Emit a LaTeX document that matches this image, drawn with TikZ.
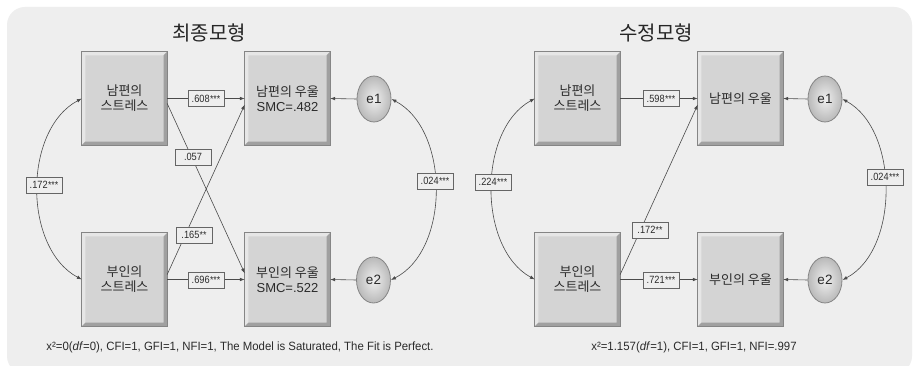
\documentclass[tikz,border=0pt]{standalone}
\usepackage{fontspec}
\setmainfont{Liberation Sans}
\newfontfamily\krfont{Noto Sans CJK KR}
\newfontfamily\narrowfont[FakeStretch=0.88]{Liberation Sans}
\newfontfamily\fitfont[FakeStretch=0.95]{Liberation Sans}
\usetikzlibrary{arrows.meta,shapes.geometric}

\definecolor{panelgray}{HTML}{EEEEEE}
\definecolor{faceg}{HTML}{D4D4D4}
\definecolor{bevlight}{HTML}{E6E6E6}
\definecolor{bevdark}{HTML}{A0A0A0}
\definecolor{edgeg}{HTML}{858585}
\definecolor{inkg}{HTML}{2B2B2B}
\definecolor{lineg}{HTML}{4A4A4A}

\tikzset{
  x=1pt, y=-1pt,
  varbox/.style={rectangle, minimum width=85pt, minimum height=93pt,
    fill=faceg, inner sep=0pt, align=center, text=inkg,
    font=\krfont\fontsize{13}{15}\selectfont},
  errnode/.style={ellipse, minimum width=34pt, minimum height=46pt,
    inner sep=0pt, draw=edgeg, line width=0.8pt,
    inner color=gray!12, outer color=gray!55, text=inkg,
    font=\fontsize{13.5}{13.5}\selectfont},
  coef/.style={rectangle, minimum width=36pt, minimum height=16pt,
    inner sep=0pt, draw=lineg!85, line width=0.5pt, fill=panelgray,
    text=inkg, font=\narrowfont\fontsize{10.5}{10.5}\selectfont},
  tip/.tip={Latex[length=5pt,width=3.6pt]},
  pathline/.style={draw=lineg, line width=0.6pt, -tip},
  covline/.style={draw=lineg, line width=0.6pt, tip-tip},
  title/.style={text=black!85, font=\krfont\fontsize{20}{20}\selectfont},
  fit/.style={text=inkg, font=\fitfont\fontsize{12}{12}\selectfont}
}

% raised bevel frame around a variable box
\newcommand\bevelframe[1]{%
  \fill[bevlight] (#1.north west) -- (#1.north east)
    -- ([shift={(-3.5pt,-3.5pt)}]#1.north east)
    -- ([shift={(3.5pt,-3.5pt)}]#1.north west)
    -- ([shift={(3.5pt,3.5pt)}]#1.south west)
    -- (#1.south west) -- cycle;
  \fill[bevdark] (#1.south east) -- (#1.north east)
    -- ([shift={(-3.5pt,-3.5pt)}]#1.north east)
    -- ([shift={(-3.5pt,3.5pt)}]#1.south east)
    -- ([shift={(3.5pt,3.5pt)}]#1.south west)
    -- (#1.south west) -- cycle;
  \draw[edgeg, line width=0.9pt] (#1.north west) rectangle (#1.south east);
}
\newcommand\stars[1]{{\fontsize{10}{10}\selectfont\kern0.3pt#1}}

\begin{document}
\begin{tikzpicture}
\useasboundingbox (0,0) rectangle (914,366);
\fill[white] (0,0) rectangle (914,366);
\begin{scope}
  \clip (0,0) rectangle (914,366);
  \fill[panelgray, rounded corners=18pt] (7,7) rectangle (912,374);
\end{scope}

% ---------------- final model ----------------
\node[title] (tL) at (209,33) {최종모형};

\node[varbox] (hsL) at (124.5,98.5) {남편의\\스트레스};
\node[varbox] (hdL) at (287.5,98.5) {남편의 우울\\{\rmfamily SMC=.482}};
\node[varbox] (wsL) at (124.5,279.5) {부인의\\스트레스};
\node[varbox] (wdL) at (287.5,279.5) {부인의 우울\\{\rmfamily SMC=.522}};
\foreach \b in {hsL,hdL,wsL,wdL} {\bevelframe{\b}}
\node[errnode] (e1L) at (374,99) {e1};
\node[errnode] (e2L) at (373.5,280) {e2};

\draw[pathline] (hsL.east) -- (hdL.west);
\draw[pathline] ([yshift=-5pt]hsL.east) -- ([yshift=6pt]wdL.west);
\draw[pathline] ([yshift=5pt]wsL.east) -- ([yshift=-6pt]hdL.west);
\draw[pathline] (wsL.east) -- (wdL.west);
\draw[pathline] (e1L.west) -- (hdL.east);
\draw[pathline] (e2L.west) -- (wdL.east);
\draw[covline] (hsL.west) .. controls (23,130) and (23,248) .. (wsL.west);
\draw[covline] (e1L.east) .. controls (450,130) and (450,250) .. (e2L.east);

\node[coef] (b1L) at (206,98.5) {.608\stars{***}};
\node[coef] (b2L) at (193,157) {.057};
\node[coef] (b3L) at (194,235) {.165\stars{**}};
\node[coef] (b4L) at (206,280) {.696\stars{***}};
\node[coef] (c1L) at (44,185) {.172\stars{***}};
\node[coef] (c2L) at (435,181) {.024\stars{***}};

\node[fit] (fitL) at (240,347)
  {x²=0(\textit{df}=0), CFI=1, GFI=1, NFI=1, The Model is Saturated, The Fit is Perfect.};

% ---------------- modified model ----------------
\node[title] (tR) at (656,33) {수정모형};

\node[varbox] (hsR) at (577.5,98.5) {남편의\\스트레스};
\node[varbox] (hdR) at (740.5,98.5) {남편의 우울};
\node[varbox] (wsR) at (577.5,279.5) {부인의\\스트레스};
\node[varbox] (wdR) at (740.5,279.5) {부인의 우울};
\foreach \b in {hsR,hdR,wsR,wdR} {\bevelframe{\b}}
\node[errnode] (e1R) at (825,99) {e1};
\node[errnode] (e2R) at (825,280) {e2};

\draw[pathline] (hsR.east) -- (hdR.west);
\draw[pathline] ([yshift=5pt]wsR.east) -- ([yshift=-6pt]hdR.west);
\draw[pathline] (wsR.east) -- (wdR.west);
\draw[pathline] (e1R.west) -- (hdR.east);
\draw[pathline] (e2R.west) -- (wdR.east);
\draw[covline] (hsR.west) .. controls (477.7,130) and (477.7,248) .. (wsR.west);
\draw[covline] (e1R.east) .. controls (899.3,130) and (899.3,250) .. (e2R.east);

\node[coef] (b1R) at (661,98.5) {.598\stars{***}};
\node[coef] (b3R) at (650,230) {.172\stars{**}};
\node[coef] (b4R) at (661,280) {.721\stars{***}};
\node[coef] (c1R) at (493,182) {.224\stars{***}};
\node[coef] (c2R) at (885,177) {.024\stars{***}};

\node[fit] (fitR) at (694,347) {x²=1.157(\textit{df}=1), CFI=1, GFI=1, NFI=.997};
\end{tikzpicture}
\end{document}
